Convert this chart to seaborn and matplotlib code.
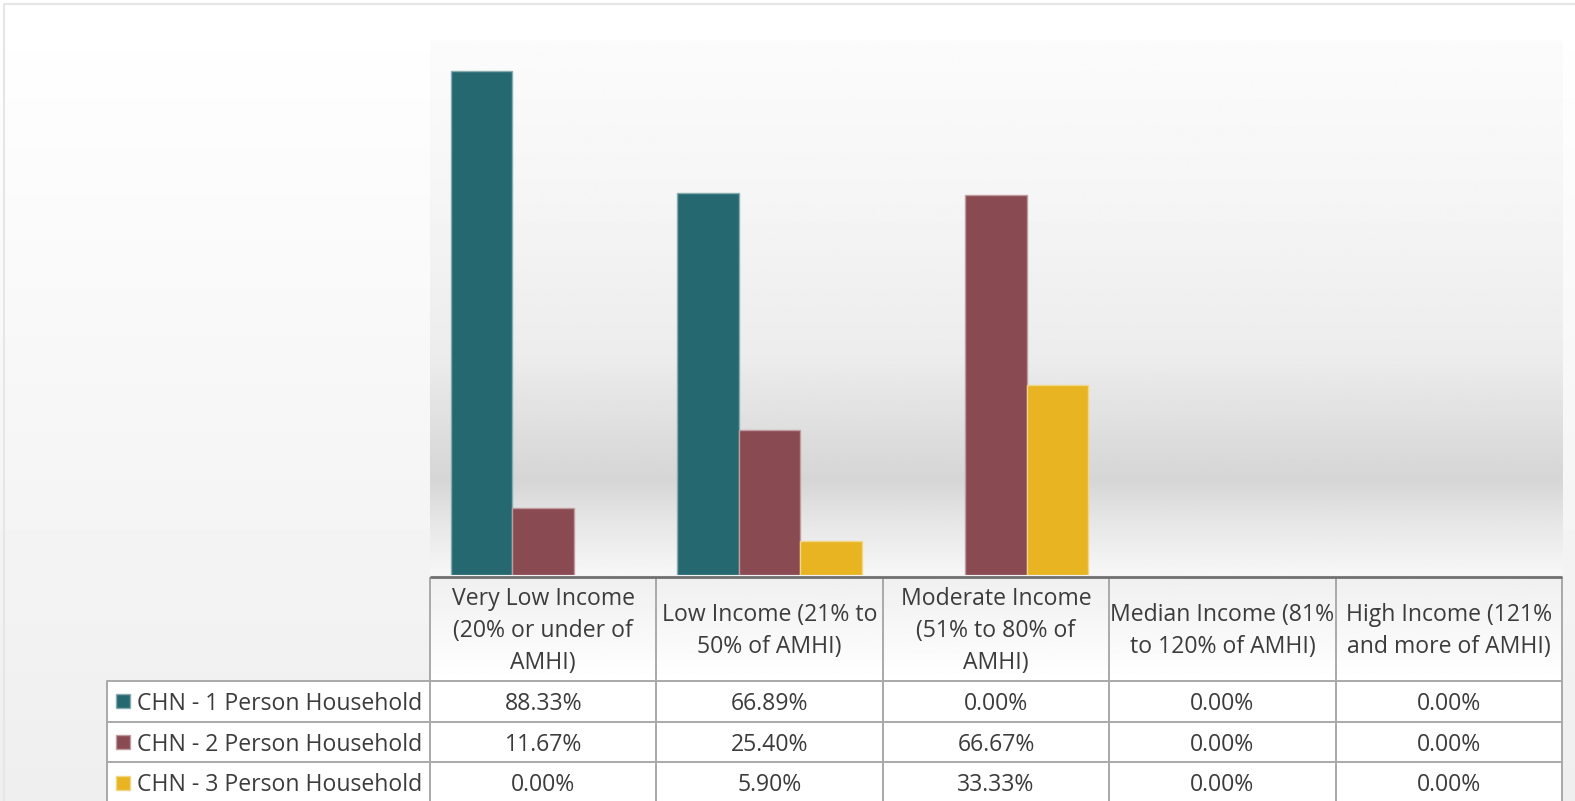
import numpy as np
import pandas as pd
import matplotlib
matplotlib.use("Agg")
import matplotlib.pyplot as plt
import seaborn as sns
from matplotlib.patches import Rectangle
from matplotlib.colors import to_rgb

# ---------------- data ----------------
categories = [
    "Very Low Income\n(20% or under of\nAMHI)",
    "Low Income (21% to\n50% of AMHI)",
    "Moderate Income\n(51% to 80% of\nAMHI)",
    "Median Income (81%\nto 120% of AMHI)",
    "High Income (121%\nand more of AMHI)",
]
series = ["CHN - 1 Person Household", "CHN - 2 Person Household", "CHN - 3 Person Household"]
one_person = [88.33, 66.89, 0.00, 0.00, 0.00]
two_person = [11.67, 25.40, 66.67, 0.00, 0.00]
three_person = [0.00, 5.90, 33.33, 0.00, 0.00]
colors = ["#256870", "#8A4A52", "#E8B422"]

values = [one_person, two_person, three_person]
df = pd.DataFrame(
    [(c, s, v) for s, vals in zip(series, values) for c, v in zip(categories, vals)],
    columns=["category", "series", "value"],
)

# ---------------- figure ----------------
W, H = 1575, 801
DPI = 100
sns.set_theme(style="white")
plt.rcParams["font.family"] = ["Open Sans", "DejaVu Sans"]
TEXT = "#3C3C3C"

fig = plt.figure(figsize=(W / DPI, H / DPI), dpi=DPI)

# background axes (pixel coordinates)
bg = fig.add_axes([0, 0, 1, 1], zorder=0)
bg.set_xlim(0, W)
bg.set_ylim(H, 0)
bg.axis("off")
ys = np.linspace(0, 1, 200)
g = 1.0 - 0.065 * ys
bg.imshow(np.repeat(g[:, None], 2, axis=1), cmap="gray", vmin=0, vmax=1,
          extent=[0, W, H, 0], aspect="auto", interpolation="bilinear", zorder=0)
bg.plot([3.5, 3.5, W], [H, 3.5, 3.5], color="#E6E6E6", lw=1.5, zorder=1)

# plot area
px0, px1, py0, py1 = 430, 1562, 40, 575
ax = fig.add_axes([px0 / W, 1 - py1 / H, (px1 - px0) / W, (py1 - py0) / H], zorder=2)
ax.patch.set_visible(False)
ypix = np.array([40, 200, 360, 440, 480, 520, 575])
gval = np.array([0.985, 0.962, 0.925, 0.865, 0.838, 0.90, 0.968])
yy = np.linspace(40, 575, 300)
gg = np.interp(yy, ypix, gval)
ax.imshow(np.repeat(gg[:, None], 2, axis=1), cmap="gray", vmin=0, vmax=1,
          extent=[0, 1, 0, 1], transform=ax.transAxes, aspect="auto",
          interpolation="bilinear", zorder=0)

sns.barplot(data=df, x="category", y="value", hue="series", order=categories,
            hue_order=series, palette=colors, saturation=1, width=0.815,
            gap=0, legend=False, ax=ax, zorder=3)
for p in ax.patches:
    fc = np.array(to_rgb(p.get_facecolor()))
    p.set_edgecolor(tuple(fc + (1 - fc) * 0.45))
    p.set_linewidth(1.0 if p.get_height() > 0 else 0)

ax.set_xlim(-0.5, len(categories) - 0.5)
ax.set_ylim(0, 93.76)
ax.set_xlabel("")
ax.set_ylabel("")
ax.set_xticks([])
ax.set_yticks([])
for s in ax.spines.values():
    s.set_visible(False)

# ---------------- data table ----------------
tab = fig.add_axes([0, 0, 1, 1], zorder=4)
tab.set_xlim(0, W)
tab.set_ylim(H, 0)
tab.axis("off")

ncol = len(categories)
colw = (px1 - px0) / ncol
xcols = [px0 + i * colw for i in range(ncol + 1)]
hdr_top, hdr_bot = 577, 681
row_h = 40.7
row_tops = [hdr_bot + i * row_h for i in range(len(series) + 1)]
lab_x0 = 107

# header gradient cells
hg = np.linspace(0.94, 1.0, 100)
for i in range(ncol):
    tab.imshow(np.repeat(hg[:, None], 2, axis=1), cmap="gray", vmin=0, vmax=1,
               extent=[xcols[i], xcols[i + 1], hdr_bot, hdr_top], aspect="auto",
               interpolation="bilinear", zorder=1)
# body cells white
tab.add_patch(Rectangle((lab_x0, hdr_bot), px1 - lab_x0, H - hdr_bot,
                        facecolor="white", edgecolor="none", zorder=1))
tab.set_xlim(0, W)
tab.set_ylim(H, 0)

GRID = "#A9A9A9"
lw = 1.4
for y in row_tops[:-1]:
    tab.plot([lab_x0, px1], [y, y], color=GRID, lw=lw, zorder=3, solid_capstyle="butt")
for x in xcols:
    tab.plot([x, x], [hdr_top, H + 2], color=GRID, lw=lw, zorder=3, solid_capstyle="butt")
tab.plot([lab_x0, lab_x0], [hdr_bot, H + 2], color=GRID, lw=lw, zorder=3)
tab.plot([px0, px1], [hdr_top - 0.5, hdr_top - 0.5], color="#707070", lw=2.0, zorder=4,
         solid_capstyle="butt")

FS = 16.6
for i, cat in enumerate(categories):
    tab.text((xcols[i] + xcols[i + 1]) / 2, (hdr_top + hdr_bot) / 2 + 2, cat,
             ha="center", va="center", fontsize=FS, color=TEXT, linespacing=1.46, zorder=5)

for r, (name, vals, col) in enumerate(zip(series, values, colors)):
    yc = (row_tops[r] + row_tops[r + 1]) / 2
    fc = np.array(to_rgb(col))
    tab.add_patch(Rectangle((116, yc - 7), 14, 14, facecolor=col,
                            edgecolor=tuple(fc + (1 - fc) * 0.45), lw=1.0, zorder=5))
    tab.text(137, yc + 2.5, name, ha="left", va="center", fontsize=FS, color=TEXT, zorder=5)
    for i, v in enumerate(vals):
        tab.text((xcols[i] + xcols[i + 1]) / 2, yc + 2.5, f"{v:.2f}%", ha="center",
                 va="center", fontsize=FS, color=TEXT, zorder=5)

fig.savefig("out.png", dpi=DPI)
